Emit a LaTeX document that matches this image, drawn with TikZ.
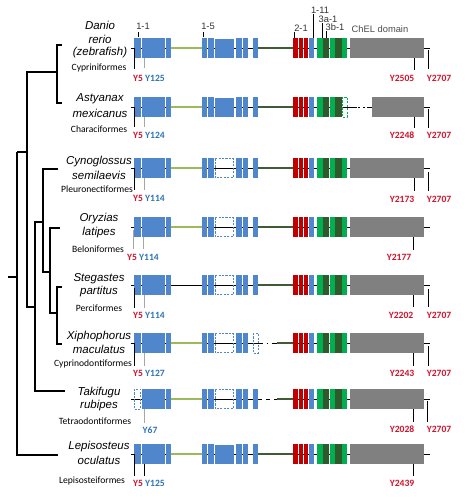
\documentclass[tikz,border=0pt]{standalone}
\usepackage{fontspec}
\setmainfont{Liberation Sans}
\newfontfamily\calfont{Carlito}
\definecolor{exblue}{HTML}{4F86CC}
\definecolor{exred}{HTML}{C00000}
\definecolor{lgreen}{HTML}{00B050}
\definecolor{dgreen}{HTML}{2F5A2C}
\definecolor{exgray}{HTML}{808080}
\definecolor{lgline}{HTML}{9BBB59}
\definecolor{dgline}{HTML}{3E5B36}
\definecolor{yred}{HTML}{D0142C}
\definecolor{yblue}{HTML}{2E75B6}
\tikzset{
  sp/.style={font=\fontsize{8.6}{10}\selectfont\itshape, inner sep=0pt},
  ord/.style={font=\calfont\fontsize{7.2}{8}\selectfont, inner sep=0pt},
  yr/.style={font=\calfont\bfseries\fontsize{7.2}{8}\selectfont, text=yred, inner sep=0pt},
  yb/.style={font=\calfont\bfseries\fontsize{7.2}{8}\selectfont, text=yblue, inner sep=0pt},
  tk/.style={font=\fontsize{7}{8}\selectfont, inner sep=0pt, text=black!80},
  tree/.style={line width=0.8pt, black},
  bb/.style={line width=0.7pt, black},
  sol/.style={fill=exblue},
  dsh/.style={draw=exblue, dashed, dash pattern=on 1.6pt off 1pt, line width=0.6pt},
  gsol/.style={fill=lgreen},
  gdsh/.style={draw=lgreen, dashed, dash pattern=on 1.6pt off 1pt, line width=0.6pt},
  mk/.style={line width=0.7pt, black},
  mkg/.style={line width=0.5pt, black!35},
}
% group one: y, style of first block
\newcommand\Gone[2]{%
  \path[#2] (134,#1-10) rectangle (140.5,#1+10);
  \path[sol] (141.5,#1-10) rectangle (165,#1+10);
  \path[sol] (166,#1-10) rectangle (171,#1+10);}
% group two: y, style of 3rd, style of 6th
\newcommand\Gtwo[3]{%
  \path[sol] (202,#1-10) rectangle (207,#1+10);
  \path[sol] (208,#1-10) rectangle (213.5,#1+10);
  \path[#2] (215,#1-9.5) rectangle (233.5,#1+9.5);
  \path[sol] (236,#1-10) rectangle (241.5,#1+10);
  \path[sol] (242.5,#1-10) rectangle (247.5,#1+10);
  \path[#3] (253,#1-10) rectangle (258,#1+10);}
% red, blue, green blocks: y, style of last green
\newcommand\Gthree[2]{%
  \fill[exred] (293,#1-10) rectangle (297.5,#1+10);
  \fill[exred] (298.5,#1-10) rectangle (302.5,#1+10);
  \fill[exred] (303.5,#1-10) rectangle (307.5,#1+10);
  \fill[exblue] (309,#1-10) rectangle (314,#1+10);
  \fill[lgreen] (317,#1-10) rectangle (322.6,#1+10);
  \fill[dgreen] (323.2,#1-10) rectangle (329,#1+10);
  \fill[lgreen] (329.6,#1-10) rectangle (334.8,#1+10);
  \fill[dgreen] (335.4,#1-10) rectangle (341.8,#1+10);
  \path[#2] (342.4,#1-10) rectangle (347,#1+10);}
\begin{document}
\begin{tikzpicture}[x=0.75pt,y=-0.75pt]
\useasboundingbox (0,0) rectangle (470,500);
\fill[white] (0,0) rectangle (470,500);

% ---------- tree ----------
\draw[tree] (62,45) -- (57,45) -- (57,103) -- (62,103);
\draw[tree] (57,72) -- (27,72) -- (27,307) -- (35,307);
\draw[tree] (27,152) -- (17,152);
\draw[tree] (17,152) -- (17,455) -- (58,455);
\draw[tree] (8,277) -- (17,277);
\draw[tree] (43,222) -- (35,222) -- (35,391) -- (65,391);
\draw[tree] (58,169) -- (43,169) -- (43,272) -- (50,272);
\draw[tree] (60,228) -- (50,228) -- (50,313) -- (57,313);
\draw[tree] (62,287) -- (57,287) -- (57,344) -- (62,344);

% ---------- species labels ----------
\node[sp] (s1a) at (100,25) {Danio};
\node[sp] (s1b) at (100,39) {rerio};
\node[sp] (s1c) at (100,53) {(zebrafish)};
\node[ord] (o1) at (99,68) {Cypriniformes};
\node[sp] (s2a) at (100,99) {Astyanax};
\node[sp] (s2b) at (100,113) {mexicanus};
\node[ord] (o2) at (99,129) {Characiformes};
\node[sp] (s3a) at (99,162) {Cynoglossus};
\node[sp] (s3b) at (99,175) {semilaevis};
\node[ord] (o3) at (97,189) {Pleuronectiformes};
\node[sp] (s4a) at (99,219) {Oryzias};
\node[sp] (s4b) at (99,233) {latipes};
\node[ord] (o4) at (98,249) {Beloniformes};
\node[sp] (s5a) at (99,279) {Stegastes};
\node[sp] (s5b) at (99,292) {partitus};
\node[ord] (o5) at (99,308) {Perciformes};
\node[sp] (s6a) at (99,337) {Xiphophorus};
\node[sp] (s6b) at (99,349) {maculatus};
\node[ord] (o6) at (93,364) {Cyprinodontiformes};
\node[sp] (s7a) at (99,393) {Takifugu};
\node[sp] (s7b) at (99,406) {rubipes};
\node[ord] (o7) at (95,421) {Tetraodontiformes};
\node[sp] (s8a) at (99,447) {Lepisosteus};
\node[sp] (s8b) at (99,460) {oculatus};
\node[ord] (o8) at (92,481) {Lepisosteiformes};

% ---------- top labels ----------
\node[tk] (t11) at (143,26) {1-1};
\draw[mk,line width=0.5pt] (138,32) -- (138,37);
\node[tk] (t15) at (208,26) {1-5};
\draw[mk,line width=0.5pt] (203,32) -- (203,37);
\node[tk] (t21) at (301,28) {2-1};
\draw[mk,line width=0.5pt] (294,32) -- (294,38);
\node[tk] (t111) at (320,10) {1-11};
\draw[mk,line width=0.5pt] (313,14) -- (313,38);
\node[tk] (t3a) at (328,19) {3a-1};
\draw[mk,line width=0.5pt] (322,23) -- (322,38);
\node[tk] (t3b) at (335,27) {3b-1};
\draw[mk,line width=0.5pt] (326,31) -- (326,38);
\node[tk,text=black!70] (tchel) at (380,29) {ChEL domain};

% ---------- backbones ----------
\foreach \Y in {48,107,168,227,285,343,399,454}{
  \draw[bb] (131,\Y) -- (171,\Y);
  \draw[bb] (202,\Y) -- (258,\Y);
}
\foreach \Y in {48,168,227,285,343,399,454}{
  \draw[bb] (293,\Y) -- (430,\Y);
}
% row 2 special end
\draw[bb] (293,107) -- (357,107);
\draw[bb, dash pattern=on 1.5pt off 2.5pt] (358,107) -- (366,107);
\draw[bb] (367,107) -- (430,107);
% intron lines 1
\foreach \Y in {48,107,168,227,343,399,454}{
  \draw[lgline, line width=1.6pt] (171,\Y) -- (202,\Y);
}
\draw[bb] (171,285) -- (202,285);
% intron lines 2
\foreach \Y in {48,107,168,227,285,454}{
  \draw[dgline, line width=1.6pt] (258,\Y) -- (293,\Y);
}
\draw[bb, dash pattern=on 4pt off 2.5pt on 1.2pt off 2.5pt] (258,343) -- (277,343);
\draw[dgline, line width=1.6pt] (277,343) -- (293,343);
\draw[bb, dash pattern=on 3pt off 3pt] (258,399) -- (277,399);
\draw[dgline, line width=1.6pt] (277,399) -- (293,399);

% ---------- exon blocks ----------
\Gone{48}{sol}   \Gtwo{48}{sol}{sol}   \Gthree{48}{gsol}
\Gone{107}{sol}  \Gtwo{107}{sol}{sol}  \Gthree{107}{gdsh}
\Gone{168}{sol}  \Gtwo{168}{dsh}{sol}  \Gthree{168}{gsol}
\Gone{227}{sol}  \Gtwo{227}{dsh}{sol}  \Gthree{227}{gsol}
\Gone{285}{sol}  \Gtwo{285}{dsh}{sol}  \Gthree{285}{gsol}
\Gone{343}{sol}  \Gtwo{343}{dsh}{dsh}  \Gthree{343}{gsol}
\Gone{399}{dsh}  \Gtwo{399}{dsh}{sol}  \Gthree{399}{gsol}
\Gone{454}{sol}  \Gtwo{454}{sol}{sol}  \Gthree{454}{gsol}
% ChEL domain
\foreach \Y in {48,168,227,285,343,399,454}{
  \fill[exgray] (350,\Y-10) rectangle (424,\Y+10);
}
\fill[exgray] (372,97) rectangle (424,117);

% ---------- left residue marks ----------
\draw[mk] (134,48) -- (134,69);  \draw[mkg] (144,58) -- (144,68);
\node[yr] (r1a) at (138,78) {Y5}; \node[yb] (r1b) at (155,78) {Y125};
\draw[mk] (134,107) -- (134,127); \draw[mkg] (144,117) -- (144,127);
\node[yr] (r2a) at (138,135) {Y5}; \node[yb] (r2b) at (155,135) {Y124};
\draw[mk] (134,168) -- (134,190); \draw[mkg] (144,178) -- (144,190);
\node[yr] (r3a) at (138,198) {Y5}; \node[yb] (r3b) at (155,198) {Y114};
\draw[mkg] (133,230) -- (133,249); \draw[mkg] (143,237) -- (143,249);
\node[yr] (r4a) at (132,257) {Y5}; \node[yb] (r4b) at (149,257) {Y114};
\draw[mk] (134,288) -- (134,308); \draw[mkg] (144,295) -- (144,308);
\node[yr] (r5a) at (138,315) {Y5}; \node[yb] (r5b) at (155,315) {Y114};
\draw[mk] (134,343) -- (134,366); \draw[mkg] (144,353) -- (144,366);
\node[yr] (r6a) at (138,373) {Y5}; \node[yb] (r6b) at (155,373) {Y127};
\draw[mkg] (144,409) -- (144,423);
\node[yb] (r7b) at (150,430) {Y67};
\draw[mk] (134,454) -- (134,476); \draw[mk] (144,464) -- (144,476);
\node[yr] (r8a) at (138,483) {Y5}; \node[yb] (r8b) at (155,483) {Y125};

% ---------- right residue marks ----------
\draw[mk] (414,58) -- (414,70);  \draw[mk] (428,50) -- (428,69);
\node[yr] (q1a) at (402,78) {Y2505}; \node[yr] (q1b) at (439,78) {Y2707};
\draw[mk] (414,117) -- (414,128); \draw[mk] (428,109) -- (428,128);
\node[yr] (q2a) at (402,135) {Y2248}; \node[yr] (q2b) at (439,135) {Y2707};
\draw[mk] (414,178) -- (414,191); \draw[mk] (428,172) -- (428,191);
\node[yr] (q3a) at (402,199) {Y2173}; \node[yr] (q3b) at (439,199) {Y2707};
\draw[mk] (413,237) -- (413,250);
\node[yr] (q4a) at (399,257) {Y2177};
\draw[mk] (413,295) -- (413,307); \draw[mk] (428,289) -- (428,307);
\node[yr] (q5a) at (401,315) {Y2202}; \node[yr] (q5b) at (439,315) {Y2707};
\draw[mk] (413,353) -- (413,366); \draw[mk] (428,346) -- (428,366);
\node[yr] (q6a) at (402,373) {Y2243}; \node[yr] (q6b) at (439,373) {Y2707};
\draw[mk] (413,409) -- (413,422); \draw[mk] (427,401) -- (427,422);
\node[yr] (q7a) at (402,429) {Y2028}; \node[yr] (q7b) at (439,429) {Y2707};
\draw[mk] (413,464) -- (413,476);
\node[yr] (q8a) at (402,483) {Y2439};
\end{tikzpicture}
\end{document}
